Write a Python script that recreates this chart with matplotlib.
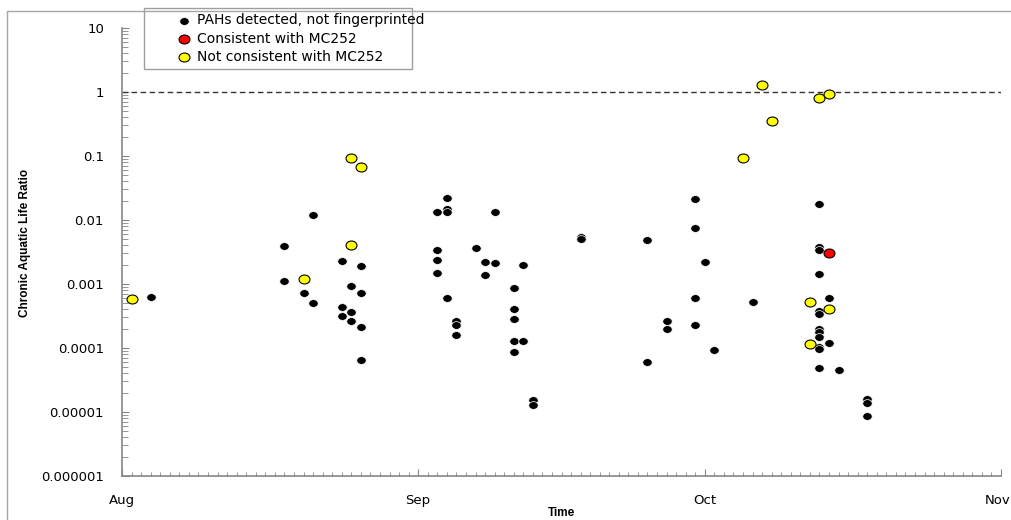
import matplotlib
matplotlib.use("Agg")
import matplotlib.pyplot as plt
import matplotlib.dates as mdates
from matplotlib import font_manager
from matplotlib.path import Path
from matplotlib.transforms import Affine2D, ScaledTranslation
from matplotlib.patches import Rectangle
import pandas as pd

# --- values ---
black_dates = ["2010-08-04",
               "2010-08-18", "2010-08-18",
               "2010-08-20",
               "2010-08-21", "2010-08-21",
               "2010-08-24", "2010-08-24", "2010-08-24",
               "2010-08-25", "2010-08-25", "2010-08-25",
               "2010-08-26", "2010-08-26", "2010-08-26", "2010-08-26",
               "2010-09-03", "2010-09-03", "2010-09-03", "2010-09-03",
               "2010-09-04", "2010-09-04", "2010-09-04", "2010-09-04",
               "2010-09-05", "2010-09-05", "2010-09-05",
               "2010-09-07",
               "2010-09-08", "2010-09-08",
               "2010-09-09", "2010-09-09",
               "2010-09-11", "2010-09-11", "2010-09-11", "2010-09-11", "2010-09-11",
               "2010-09-12", "2010-09-12",
               "2010-09-13", "2010-09-13",
               "2010-09-18", "2010-09-18",
               "2010-09-25", "2010-09-25",
               "2010-09-27", "2010-09-27",
               "2010-09-30", "2010-09-30", "2010-09-30", "2010-09-30",
               "2010-10-01",
               "2010-10-02",
               "2010-10-06",
               "2010-10-13", "2010-10-13", "2010-10-13", "2010-10-13",
               "2010-10-13", "2010-10-13", "2010-10-13", "2010-10-13",
               "2010-10-13", "2010-10-13", "2010-10-13", "2010-10-13",
               "2010-10-14", "2010-10-14",
               "2010-10-15",
               "2010-10-18", "2010-10-18", "2010-10-18"]
black_values = [6.2e-4,
                3.9e-3, 1.1e-3,
                7.2e-4,
                1.2e-2, 5.1e-4,
                2.3e-3, 4.3e-4, 3.2e-4,
                9.3e-4, 3.6e-4, 2.6e-4,
                1.9e-3, 7.2e-4, 2.15e-4, 6.5e-5,
                1.34e-2, 3.4e-3, 2.4e-3, 1.5e-3,
                2.21e-2, 1.5e-2, 1.35e-2, 6.0e-4,
                2.6e-4, 2.3e-4, 1.6e-4,
                3.6e-3,
                2.2e-3, 1.37e-3,
                1.31e-2, 2.1e-3,
                8.6e-4, 4.1e-4, 2.8e-4, 1.3e-4, 8.8e-5,
                1.97e-3, 1.3e-4,
                1.55e-5, 1.3e-5,
                5.5e-3, 5.0e-3,
                4.8e-3, 6.0e-5,
                2.6e-4, 2.0e-4,
                2.15e-2, 7.6e-3, 6.0e-4, 2.3e-4,
                2.2e-3,
                9.3e-5,
                5.3e-4,
                1.8e-2, 3.8e-3, 3.4e-3, 1.41e-3,
                3.8e-4, 3.4e-4, 2.0e-4, 1.8e-4,
                1.5e-4, 1.05e-4, 9.6e-5, 4.8e-5,
                6.1e-4, 1.2e-4,
                4.6e-5,
                1.6e-5, 1.4e-5, 8.6e-6]

red_dates = ["2010-10-14"]
red_values = [3.0e-3]

yellow_dates = ["2010-08-02", "2010-08-20", "2010-08-25", "2010-08-25",
                "2010-08-26", "2010-10-05", "2010-10-07", "2010-10-08",
                "2010-10-12", "2010-10-12", "2010-10-13", "2010-10-14",
                "2010-10-14"]
yellow_values = [5.8e-4, 1.21e-3, 9.2e-2, 4.1e-3,
                 6.7e-2, 9.2e-2, 1.30, 0.356,
                 5.3e-4, 1.16e-4, 0.81, 0.93,
                 4.0e-4]

series_labels = ["PAHs detected, not fingerprinted",
                 "Consistent with MC252",
                 "Not consistent with MC252"]
y_ticks = [1e-6, 1e-5, 1e-4, 1e-3, 1e-2, 1e-1, 1, 10]
y_tick_labels = ["0.000001", "0.00001", "0.0001", "0.001",
                 "0.01", "0.1", "1", "10"]
threshold = 1.0
x_start, x_end = "2010-08-01", "2010-11-01"


def pick_font(names, fallback="DejaVu Sans"):
    have = {f.name for f in font_manager.fontManager.ttflist}
    for n in names:
        if n in have:
            return n
    return fallback


narrow = pick_font(["Liberation Sans Narrow", "Liberation Sans"])

W, H = 1011, 520
fig = plt.figure(figsize=(W / 100, H / 100), dpi=100)

# chart area border (cropped on the right/bottom like the original)
fig.patches.append(Rectangle((7 / W, -0.1), 1.2, 1 - 11 / H + 0.1,
                             transform=fig.transFigure, fill=False,
                             edgecolor="#a6a6a6", linewidth=1))

ax = fig.add_axes([122 / W, 1 - 476 / H, (1001 - 122) / W, (476 - 28) / H])
ax.patch.set_alpha(0)

# slightly wide ellipse, like the stretched excel markers
ellipse = Path.unit_circle().transformed(Affine2D().scale(1.22, 1.0))

ax.scatter(pd.to_datetime(black_dates), black_values, s=46, marker=ellipse,
           facecolor="black", edgecolor="white", linewidth=0.5,
           label=series_labels[0], zorder=3)
ax.scatter(pd.to_datetime(red_dates), red_values, s=62, marker=ellipse,
           facecolor="#ff0000", edgecolor="black", linewidth=0.8,
           label=series_labels[1], zorder=4)
ax.scatter(pd.to_datetime(yellow_dates), yellow_values, s=62, marker=ellipse,
           facecolor="#ffff00", edgecolor="black", linewidth=0.8,
           label=series_labels[2], zorder=4)

ax.axhline(threshold, color="#333333", linewidth=1, dashes=(4, 2.5), zorder=2)

ax.set_yscale("log")
ax.set_ylim(1e-6, 10)
ax.set_yticks(y_ticks)
ax.set_yticklabels(y_tick_labels)
ax.set_xlim(pd.Timestamp(x_start), pd.Timestamp(x_end))
ax.xaxis.set_major_locator(mdates.MonthLocator())
ax.xaxis.set_major_formatter(mdates.DateFormatter("%b"))
ax.xaxis.set_minor_locator(mdates.DayLocator())

for s in ["top", "right"]:
    ax.spines[s].set_visible(False)
for s in ["left", "bottom"]:
    ax.spines[s].set_color("#868686")
    ax.spines[s].set_linewidth(1.2)

ax.tick_params(axis="both", which="both", direction="in", color="#868686")
ax.tick_params(axis="y", which="major", length=5, pad=13, labelsize=9.5)
ax.tick_params(axis="y", which="minor", length=4)
ax.tick_params(axis="x", which="major", length=5, pad=13, labelsize=9.5)
ax.tick_params(axis="x", which="minor", length=3)

# last month label sits at the right edge; keep it inside the picture
fig.canvas.draw()
last = ax.get_xticklabels()[-1]
last.set_ha("right")
last.set_transform(last.get_transform()
                   + ScaledTranslation(9 / 100, 0, fig.dpi_scale_trans))

fig.text(25 / W, 1 - 243 / H, "Chronic Aquatic Life Ratio", rotation=90,
         ha="center", va="center", fontsize=8.5, fontweight="bold",
         family=narrow)
fig.text(561 / W, 1 - 513 / H, "Time", ha="center", va="center",
         fontsize=8.5, fontweight="bold", family=narrow)

leg = ax.legend(loc="upper left",
                bbox_to_anchor=(144 / W, 1 - 13 / H, 268 / W, 0.01),
                bbox_transform=fig.transFigure, mode="expand",
                borderaxespad=0, borderpad=0.4, labelspacing=0.3,
                handlelength=4.9, handletextpad=-1.45, fontsize=10,
                fancybox=False, scatterpoints=1)
leg.get_frame().set_edgecolor("#868686")
leg.get_frame().set_linewidth(1)

fig.savefig("out.png", dpi=100)
